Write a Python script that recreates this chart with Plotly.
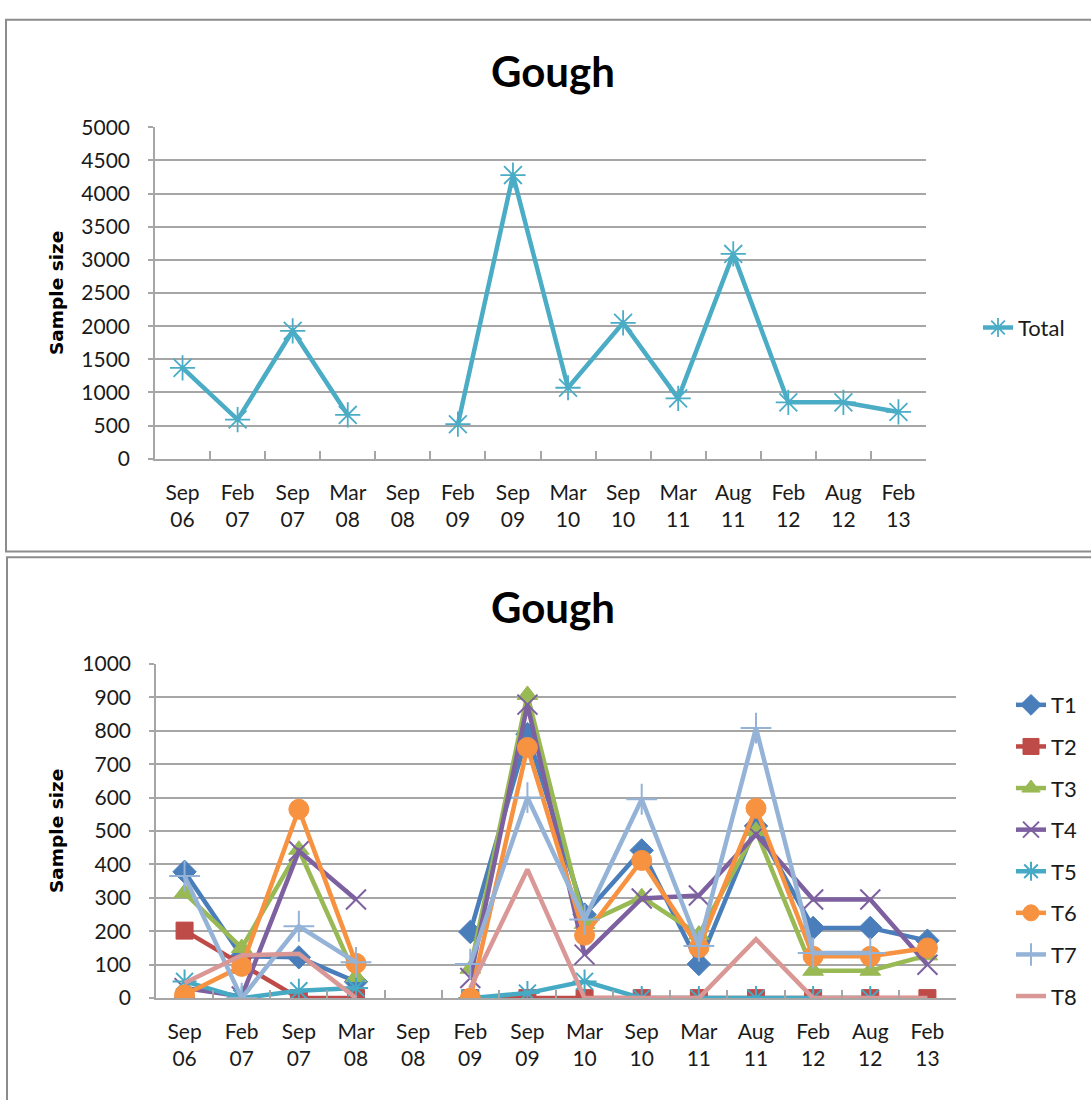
import plotly.graph_objects as go

# ---------------- data ----------------
categories = ["Sep 06", "Feb 07", "Sep 07", "Mar 08", "Sep 08", "Feb 09", "Sep 09",
              "Mar 10", "Sep 10", "Mar 11", "Aug 11", "Feb 12", "Aug 12", "Feb 13"]
tick_labels = ["Sep<br>06", "Feb<br>07", "Sep<br>07", "Mar<br>08", "Sep<br>08", "Feb<br>09", "Sep<br>09",
               "Mar<br>10", "Sep<br>10", "Mar<br>11", "Aug<br>11", "Feb<br>12", "Aug<br>12", "Feb<br>13"]

total = [1370, 590, 1930, 660, None, 520, 4280, 1070, 2050, 910, 3090, 850, 850, 705]

T1 = [378, 125, 122, 49, None, 198, 790, 250, 442, 102, 515, 210, 210, 172]
T2 = [202, 100, 0, 0, None, 0, 0, 0, 0, 0, 0, 0, 0, 0]
T3 = [315, 150, 444, 63, None, 88, 907, 222, 302, 190, 500, 82, 82, 128]
T4 = [30, 5, 440, 295, None, 60, 878, 130, 298, 307, 490, 295, 295, 100]
T5 = [50, 0, 22, 30, None, 0, 15, 50, 0, 0, 0, 0, 0, None]
T6 = [10, 95, 565, 104, None, 0, 750, 188, 412, 151, 568, 125, 125, 150]
T7 = [365, 0, 215, 107, None, 102, 600, 235, 595, 156, 808, 135, 135, None]
T8 = [45, 128, 133, 0, None, 30, 385, 0, 0, 0, 176, 0, 0, 0]

series_names = ["T1", "T2", "T3", "T4", "T5", "T6", "T7", "T8"]
series_values = [T1, T2, T3, T4, T5, T6, T7, T8]

# ---------------- styles ----------------
W, H = 1091, 1100
colors = ["#4A7EBB", "#BE4B48", "#98B954", "#7D60A0", "#46AAC5", "#F69240", "#95B3D7", "#D99795"]
symbols = ["diamond", "square", "triangle-up", "x-thin-open", "asterisk-open", "circle", "cross-thin-open", None]
sizes = [18, 17, 18, 20, 20, 20, 22, 0]
GRID = "#A6A6A6"
TICKFONT = dict(family="Lato", size=21, color="#1a1a1a")


def px_x(p):
    return p / W


def px_y(p):
    return 1 - p / H


fig = go.Figure()

fig.add_trace(go.Scatter(
    x=categories, y=total, name="Total", mode="lines+markers",
    line=dict(color="#4BACC6", width=4.5),
    marker=dict(symbol="asterisk-open", size=21, color="#4BACC6",
                line=dict(color="#4BACC6", width=1.8)),
    connectgaps=False, xaxis="x", yaxis="y", legend="legend", showlegend=True,
))

for i, (name, vals) in enumerate(zip(series_names, series_values)):
    c = colors[i]
    sym = symbols[i]
    if sym is None:
        mode = "lines"
        marker = None
    else:
        mode = "lines+markers"
        if sym.endswith("open"):
            marker = dict(symbol=sym, size=sizes[i], color=c, line=dict(color=c, width=2))
        else:
            marker = dict(symbol=sym, size=sizes[i], color=c, line=dict(color=c, width=1))
    fig.add_trace(go.Scatter(
        x=categories, y=vals, name=name, mode=mode,
        line=dict(color=c, width=4.5),
        marker=marker, connectgaps=False,
        xaxis="x2", yaxis="y2", legend="legend2", legendgroup=name,
    ))

xcommon = dict(
    type="category", categoryorder="array", categoryarray=categories,
    range=[-0.5, 13.5], tickmode="array", tickvals=categories, ticktext=tick_labels,
    tickson="boundaries", ticks="inside", ticklen=8, tickcolor=GRID, tickwidth=1.5,
    showline=True, linecolor=GRID, linewidth=1.5, showgrid=False, zeroline=False,
    tickfont=TICKFONT, ticklabelstandoff=14, fixedrange=True,
)
ycommon = dict(
    showline=True, linecolor=GRID, linewidth=1.5, showgrid=True, gridcolor=GRID,
    gridwidth=1.5, zeroline=False, ticks="outside", ticklen=5, tickcolor=GRID,
    tickwidth=1.5, tickfont=TICKFONT, ticklabelstandoff=14, fixedrange=True,
)

fig.update_layout(
    width=W, height=H, margin=dict(l=0, r=0, t=0, b=0),
    paper_bgcolor="white", plot_bgcolor="white",
    xaxis=dict(domain=[px_x(155), px_x(926)], anchor="y", **xcommon),
    yaxis=dict(domain=[px_y(455), px_y(116)], anchor="x", range=[0, 5000], dtick=500, **ycommon),
    xaxis2=dict(domain=[px_x(156), px_x(956)], anchor="y2", **xcommon),
    yaxis2=dict(domain=[px_y(1007), px_y(665)], anchor="x2", range=[0, 1000], dtick=100, **ycommon),
    legend=dict(x=px_x(978), y=px_y(321), xanchor="left", yanchor="middle",
                font=dict(family="Lato", size=22, color="#1a1a1a"), bgcolor="rgba(0,0,0,0)"),
    legend2=dict(x=px_x(1011), y=px_y(856), xanchor="left", yanchor="middle",
                 font=dict(family="Lato", size=22, color="#1a1a1a"), bgcolor="rgba(0,0,0,0)",
                 tracegroupgap=10, traceorder="grouped"),
    showlegend=True,
)

# titles
for yc in (58, 607):
    fig.add_annotation(text="<b>Gough</b>", x=px_x(553), y=px_y(yc), xref="paper", yref="paper",
                       showarrow=False, font=dict(family="Lato", size=42, color="black"),
                       xanchor="center", yanchor="middle")
# y-axis titles
for yc in (285.5, 836):
    fig.add_annotation(text="<b>Sample size</b>", x=px_x(56), y=px_y(yc), xref="paper", yref="paper",
                       showarrow=False, textangle=-90,
                       font=dict(family="DejaVu Sans", size=18.5, color="black"),
                       xanchor="center", yanchor="middle")

# panel frames
fig.add_shape(type="rect", xref="paper", yref="paper", x0=px_x(6), x1=1.02, y0=px_y(550), y1=px_y(6),
              line=dict(color="#8C8C8C", width=2), fillcolor="rgba(0,0,0,0)", layer="below")
fig.add_shape(type="rect", xref="paper", yref="paper", x0=px_x(7), x1=1.02, y0=-0.02, y1=px_y(556),
              line=dict(color="#8C8C8C", width=2), fillcolor="rgba(0,0,0,0)", layer="below")

fig.write_html("out.html",
               post_script="document.body.style.margin='0';document.body.style.padding='0';")
